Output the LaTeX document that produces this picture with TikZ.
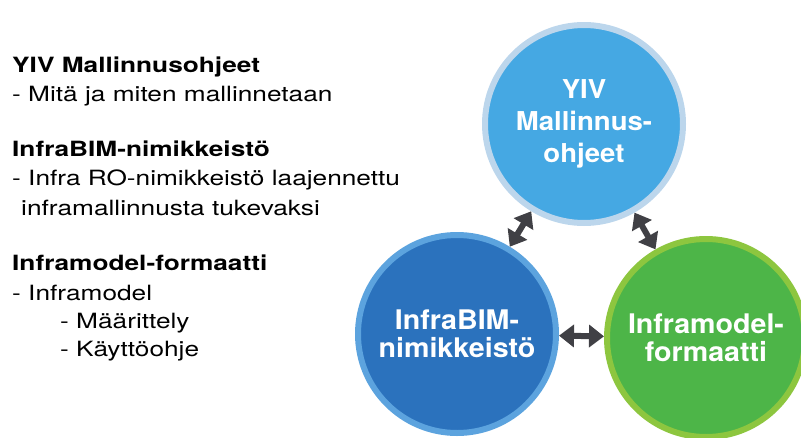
\documentclass[tikz,border=0pt]{standalone}
\usepackage{fontspec}
\setmainfont{TeX Gyre Heros}
\newfontfamily\listfont[FakeStretch=1.25]{TeX Gyre Heros}
\newfontfamily\ringfont[FakeStretch=1.06]{TeX Gyre Heros}
\usetikzlibrary{arrows.meta}
\definecolor{yivfill}{HTML}{45A8E3}
\definecolor{yivring}{HTML}{BCD6EC}
\definecolor{bimfill}{HTML}{2B72BD}
\definecolor{bimring}{HTML}{5CA3DE}
\definecolor{imfill}{HTML}{4DB548}
\definecolor{imring}{HTML}{8DC63F}
\definecolor{linkgray}{HTML}{404045}

\begin{document}
\begin{tikzpicture}[x=1pt,y=-1pt,
    ring/.style={circle,minimum size=198pt,inner sep=0pt,line width=6pt,
      align=center,text=white},
    link/.style={{Triangle[length=15pt,width=22pt]}-{Triangle[length=15pt,width=22pt]},
      line width=6pt,draw=linkgray},
    item/.style={anchor=base west,inner sep=0pt,
      font=\listfont\fontsize{21}{25}\selectfont},
    head/.style={item,font=\listfont\bfseries\fontsize{21}{25}\selectfont}]
  \useasboundingbox (0,0) rectangle (801,437);

  % the three circles
  \node[ring,fill=yivfill,draw=yivring,
    font=\ringfont\bfseries\fontsize{26}{32}\selectfont] (yiv) at (584,124)
    {YIV\\Mallinnus-\\ohjeet};
  \node[ring,fill=bimfill,draw=bimring,
    font=\ringfont\bfseries\fontsize{27}{28.5}\selectfont] (bim) at (457,334)
    {InfraBIM-\\nimikkeistö};
  \node[ring,fill=imfill,draw=imring,
    font=\ringfont\bfseries\fontsize{27}{28.5}\selectfont] (im) at (706,338)
    {Inframodel-\\formaatti};

  % links
  \draw[link] (bim) -- (yiv);
  \draw[link] (yiv) -- (im);
  \draw[link] (bim) -- (im);

  % list on the left
  \node[head] (h1) at (12,72.7) {YIV Mallinnusohjeet};
  \node[item] (i1) at (12,101.7) {- Mitä ja miten mallinnetaan};
  \node[head] (h2) at (12,156.7) {InfraBIM-nimikkeistö};
  \node[item] (i2) at (12,185.7) {- Infra RO-nimikkeistö laajennettu};
  \node[item] (i3) at (21,215) {inframallinnusta tukevaksi};
  \node[head] (h3) at (12,270) {Inframodel-formaatti};
  \node[item] (i4) at (12,300) {- Inframodel};
  \node[item] (i5) at (60,328) {- Määrittely};
  \node[item] (i6) at (60,356.7) {- Käyttöohje};
\end{tikzpicture}
\end{document}
